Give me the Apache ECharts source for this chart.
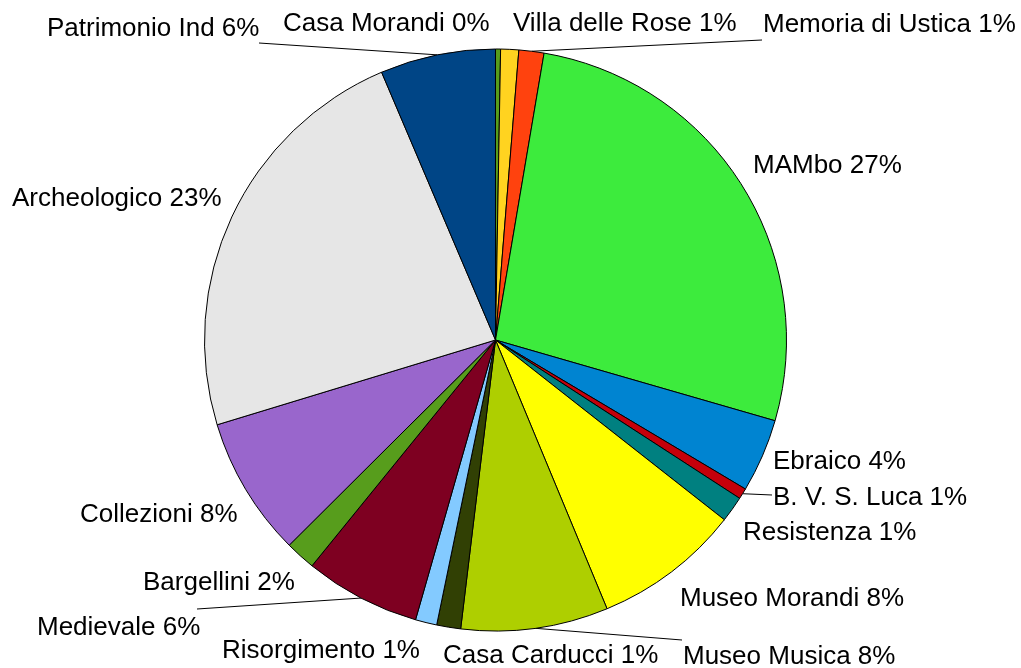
<!DOCTYPE html>
<html>
<head>
<meta charset="utf-8">
<script src="https://cdn.jsdelivr.net/npm/echarts@6.0.0/dist/echarts.min.js"></script>
<style>
  html, body { margin: 0; padding: 0; background: #fff; }
  #chart { width: 1021px; height: 668px; }
</style>
</head>
<body>
<div id="chart"></div>
<script>
// museums, clockwise from 12 o'clock
const names = [
  "Casa Morandi", "Villa delle Rose", "Memoria di Ustica", "MAMbo",
  "Ebraico", "B. V. S. Luca", "Resistenza", "Museo Morandi",
  "Museo Musica", "Casa Carducci", "Risorgimento", "Medievale",
  "Bargellini", "Collezioni", "Archeologico", "Patrimonio Ind"
];
// share of visitors (%)
const shares = [
  0.28, 1.0, 1.39, 26.8,
  4.08, 0.6, 1.44, 8.14,
  8.17, 1.33, 1.19, 6.43,
  1.68, 7.75, 23.3, 6.4
];

const palette = [
  "#579d1c", "#ffd320", "#ff420e", "#3deb3d",
  "#0084d1", "#c5000b", "#008080", "#ffff00",
  "#aecf00", "#314004", "#83caff", "#7e0021",
  "#579d1c", "#9966cc", "#e6e6e6", "#004586"
];

// where each label sits (left edge, middle) and where its leader ends, if any
const labelPos = [
  [283, 24], [513, 24], [763, 25], [753, 166],
  [773, 462], [773, 498], [743, 533], [680, 599],
  [683, 657], [443, 656], [222, 651], [37, 628],
  [143, 583], [80, 515], [12, 199], [47, 29]
];
const leaderEnd = {
  2: [762, 40],
  5: [772, 495],
  8: [682, 640],
  11: [197, 609],
  15: [259, 43]
};

const chart = echarts.init(document.getElementById("chart"), null, { renderer: "canvas" });

chart.setOption({
  animation: false,
  color: palette,
  series: [{
    type: "pie",
    center: [495.5, 340],
    radius: 291,
    startAngle: 90,
    clockwise: true,
    avoidLabelOverlap: false,
    emphasis: { disabled: true },
    itemStyle: { borderColor: "#000", borderWidth: 1 },
    label: {
      show: true,
      position: "outside",
      fontFamily: "Liberation Sans, Arial, sans-serif",
      fontSize: 26,
      color: "#000",
      formatter: p => p.name + " " + Math.round(p.value) + "%"
    },
    labelLine: {
      show: true,
      length: 10,
      length2: 10,
      lineStyle: { color: "#000", width: 1 }
    },
    labelLayout: function (params) {
      const i = params.dataIndex;
      const pts = params.labelLinePoints || [[0, 0]];
      const start = pts[0];
      const end = leaderEnd[i] || start;
      return {
        x: labelPos[i][0],
        y: labelPos[i][1],
        align: "left",
        verticalAlign: "middle",
        labelLinePoints: [start, end, end]
      };
    },
    data: names.map((n, i) => ({ name: n, value: shares[i] }))
  }]
});
</script>
</body>
</html>
